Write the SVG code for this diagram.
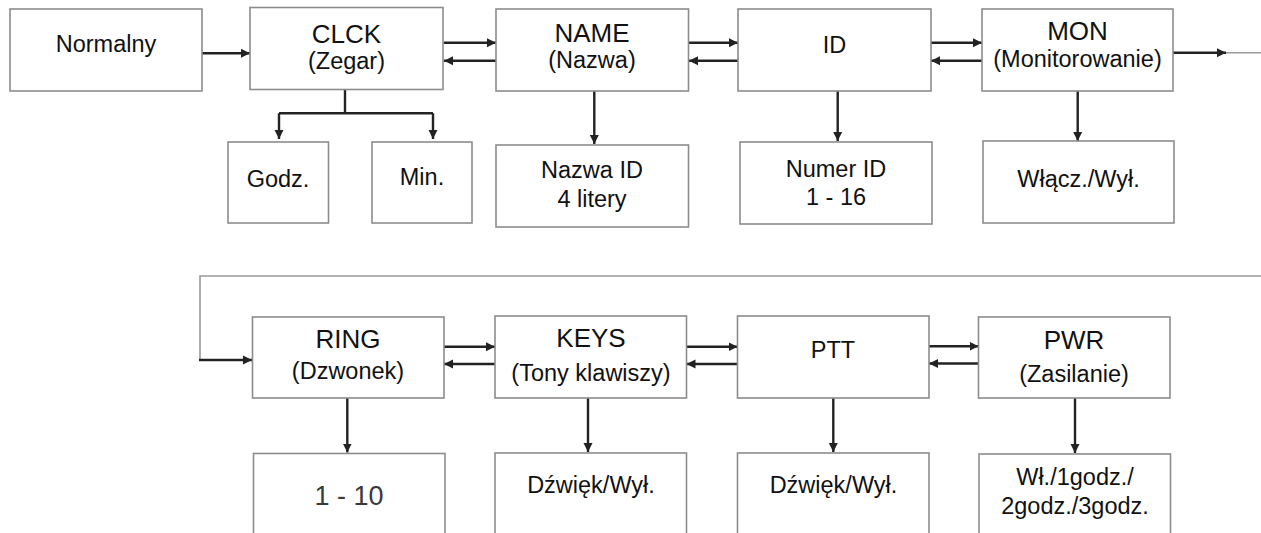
<svg xmlns="http://www.w3.org/2000/svg" width="1261" height="533" viewBox="0 0 1261 533">
<style>
.box{fill:#fff;stroke:#8c8c8c;stroke-width:1.6}
.t{font-family:"Liberation Sans",Arial,sans-serif;font-size:23.5px;fill:#111;text-anchor:middle}
.h{font-size:26px}
.big{font-size:27px;fill:#3a3a3a}
.c{stroke:#222;stroke-width:2.4;fill:none}
.g{stroke:#999;stroke-width:1.6;fill:none}
</style>
<defs>
<marker id="ah" viewBox="0 0 10 10" refX="10" refY="5" markerWidth="9" markerHeight="10" markerUnits="userSpaceOnUse" orient="auto">
<path d="M0,0 L10,5 L0,10 z" fill="#222"/>
</marker>
</defs>
<rect width="1261" height="533" fill="#fff"/>

<g id="connectors">
<line class="c" x1="202" y1="53.3" x2="250" y2="53.3" marker-end="url(#ah)"/>
<line class="c" x1="444" y1="42.7" x2="496" y2="42.7" marker-end="url(#ah)"/>
<line class="c" x1="496" y1="60.7" x2="444" y2="60.7" marker-end="url(#ah)"/>
<line class="c" x1="689" y1="42.7" x2="738" y2="42.7" marker-end="url(#ah)"/>
<line class="c" x1="738" y1="60.7" x2="689" y2="60.7" marker-end="url(#ah)"/>
<line class="c" x1="931" y1="42.7" x2="982" y2="42.7" marker-end="url(#ah)"/>
<line class="c" x1="982" y1="60.7" x2="931" y2="60.7" marker-end="url(#ah)"/>
<line class="c" x1="1173" y1="52.7" x2="1226" y2="52.7" marker-end="url(#ah)"/>
<line class="g" x1="1226" y1="52.7" x2="1261" y2="52.7"/>
<line class="c" x1="345" y1="89.5" x2="345" y2="113.3"/>
<line class="c" x1="279" y1="113.3" x2="433" y2="113.3"/>
<line class="c" x1="279" y1="113.3" x2="279" y2="139" marker-end="url(#ah)"/>
<line class="c" x1="433" y1="113.3" x2="433" y2="139" marker-end="url(#ah)"/>
<line class="c" x1="594.3" y1="91" x2="594.3" y2="144" marker-end="url(#ah)"/>
<line class="c" x1="837.7" y1="91" x2="837.7" y2="141" marker-end="url(#ah)"/>
<line class="c" x1="1077.7" y1="91" x2="1077.7" y2="141" marker-end="url(#ah)"/>

<polyline class="g" points="1261,276 200,276 200,360"/>
<line class="c" x1="199" y1="360" x2="252" y2="360" marker-end="url(#ah)"/>
<line class="c" x1="444" y1="346.7" x2="495" y2="346.7" marker-end="url(#ah)"/>
<line class="c" x1="495" y1="364" x2="444" y2="364" marker-end="url(#ah)"/>
<line class="c" x1="686.5" y1="346.7" x2="737.5" y2="346.7" marker-end="url(#ah)"/>
<line class="c" x1="737.5" y1="364" x2="686.5" y2="364" marker-end="url(#ah)"/>
<line class="c" x1="929" y1="346.3" x2="978.5" y2="346.3" marker-end="url(#ah)"/>
<line class="c" x1="978.5" y1="363.5" x2="929" y2="363.5" marker-end="url(#ah)"/>
<line class="c" x1="347.3" y1="398" x2="347.3" y2="452.5" marker-end="url(#ah)"/>
<line class="c" x1="588" y1="398" x2="588" y2="452" marker-end="url(#ah)"/>
<line class="c" x1="833.3" y1="398" x2="833.3" y2="452" marker-end="url(#ah)"/>
<line class="c" x1="1075" y1="398" x2="1075" y2="453" marker-end="url(#ah)"/>
</g>

<g id="normalny"><rect class="box" x="10" y="9" width="192" height="82"/><text class="t" x="106" y="52">Normalny</text></g>
<g id="clck"><rect class="box" x="250" y="7.5" width="193" height="82"/><text class="t h" x="346.5" y="43">CLCK</text><text class="t" x="346.5" y="69">(Zegar)</text></g>
<g id="name"><rect class="box" x="496" y="9" width="192.5" height="82"/><text class="t h" x="592" y="42">NAME</text><text class="t" x="592" y="68">(Nazwa)</text></g>
<g id="id"><rect class="box" x="738" y="9" width="193" height="82"/><text class="t" x="834.5" y="53">ID</text></g>
<g id="mon"><rect class="box" x="982" y="9" width="191" height="82"/><text class="t h" x="1077.5" y="40">MON</text><text class="t" x="1077.5" y="66.5">(Monitorowanie)</text></g>

<g id="godz"><rect class="box" x="228" y="142" width="100.5" height="81"/><text class="t" x="278" y="187">Godz.</text></g>
<g id="min"><rect class="box" x="372" y="142" width="100" height="81"/><text class="t" x="422" y="185">Min.</text></g>
<g id="nazwaid"><rect class="box" x="496" y="145" width="192.5" height="82"/><text class="t" x="592" y="178">Nazwa ID</text><text class="t" x="592" y="207">4 litery</text></g>
<g id="numerid"><rect class="box" x="740" y="142" width="192" height="82"/><text class="t" x="836" y="176.5">Numer ID</text><text class="t" x="836" y="205">1 - 16</text></g>
<g id="wlacz"><rect class="box" x="983" y="141" width="191" height="82"/><text class="t" x="1078.5" y="186.5">Włącz./Wył.</text></g>

<g id="ring"><rect class="box" x="252.5" y="317" width="191.5" height="81"/><text class="t h" x="348" y="348.3">RING</text><text class="t" x="348" y="379.3">(Dzwonek)</text></g>
<g id="keys"><rect class="box" x="495" y="316" width="191.5" height="82"/><text class="t h" x="591" y="346.7">KEYS</text><text class="t" x="591" y="380.7">(Tony klawiszy)</text></g>
<g id="ptt"><rect class="box" x="737.5" y="316" width="191.5" height="82"/><text class="t" x="833" y="358.3">PTT</text></g>
<g id="pwr"><rect class="box" x="978.5" y="317" width="191.5" height="81"/><text class="t h" x="1074" y="349.3">PWR</text><text class="t" x="1074" y="381.7">(Zasilanie)</text></g>

<g id="ring-val"><rect class="box" x="253.5" y="453.5" width="191.5" height="95"/><text class="t big" x="349" y="505">1 - 10</text></g>
<g id="keys-val"><rect class="box" x="495" y="453" width="191.5" height="95"/><text class="t" x="591" y="493.3">Dźwięk/Wył.</text></g>
<g id="ptt-val"><rect class="box" x="737.5" y="453" width="191.5" height="95"/><text class="t" x="833.5" y="493.3">Dźwięk/Wył.</text></g>
<g id="pwr-val"><rect class="box" x="979" y="454" width="191.5" height="95"/><text class="t" x="1075" y="485">Wł./1godz./</text><text class="t" x="1075" y="514">2godz./3godz.</text></g>
</svg>
